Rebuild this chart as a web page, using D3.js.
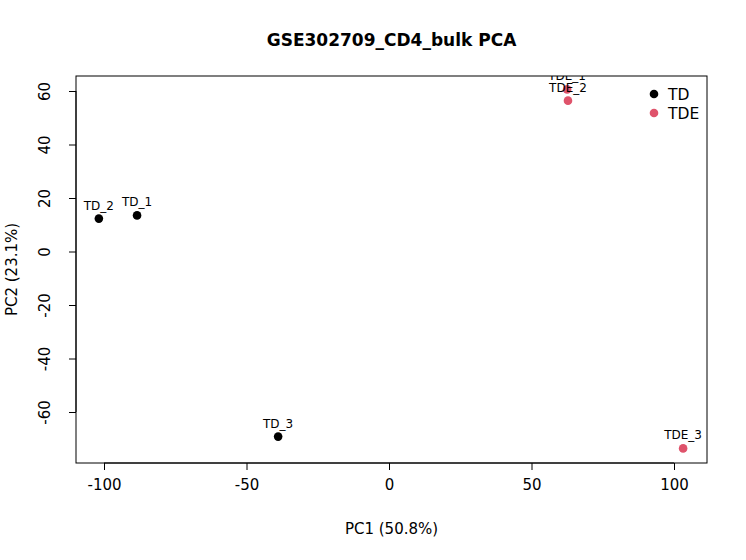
<!DOCTYPE html>
<html>
<head>
<meta charset="utf-8">
<script src="https://cdn.jsdelivr.net/npm/d3@7"></script>
<style>
  body { margin: 0; background: #fff; }
  text { font-family: "DejaVu Sans", sans-serif; }
</style>
</head>
<body>
<div id="chart"></div>
<script>
const samples = ["TD_1", "TD_2", "TD_3", "TDE_1", "TDE_2", "TDE_3"];
const groups = ["TD", "TD", "TD", "TDE", "TDE", "TDE"];
const pc1 = [-88.4, -101.8, -38.9, 62.5, 62.8, 103.2];
const pc2 = [13.5, 12.3, -69.2, 60.6, 56.4, -73.6];
const xTicks = [-100, -50, 0, 50, 100];
const yTicks = [-60, -40, -20, 0, 20, 40, 60];
const legendGroups = ["TD", "TDE"];

const W = 746, H = 560;
const pLeft = 76, pRight = 707, pTop = 76, pBottom = 463;

const svg = d3.select("#chart")
  .append("svg")
  .attr("width", W)
  .attr("height", H);

const x = d3.scaleLinear().domain([-100, 100]).range([104, 674]);
const y = d3.scaleLinear().domain([-60, 60]).range([412, 91]);
const color = d3.scaleOrdinal().domain(legendGroups).range(["#000000", "#DF536B"]);
const fmt = d => String(d); // plain hyphen like base R

// clip to plot region (R clips text with xpd = FALSE)
svg.append("clipPath").attr("id", "plotclip")
  .append("rect")
  .attr("x", pLeft).attr("y", pTop)
  .attr("width", pRight - pLeft).attr("height", pBottom - pTop);

// box
svg.append("rect")
  .attr("x", pLeft).attr("y", pTop)
  .attr("width", pRight - pLeft).attr("height", pBottom - pTop)
  .attr("fill", "none").attr("stroke", "#000").attr("stroke-width", 1);

// x axis
const xAxis = svg.append("g")
  .attr("transform", `translate(0,${pBottom})`)
  .call(d3.axisBottom(x).tickValues(xTicks).tickSize(7).tickPadding(9).tickFormat(fmt));
xAxis.select(".domain").attr("d", `M${x(-100)},0H${x(100)}`);
xAxis.selectAll("text").attr("font-size", 15).attr("font-family", "DejaVu Sans").attr("fill", "#000");

// y axis, labels rotated like base R
const yAxis = svg.append("g")
  .attr("transform", `translate(${pLeft},0)`)
  .call(d3.axisLeft(y).tickValues(yTicks).tickSize(7).tickFormat(fmt));
yAxis.select(".domain").attr("d", `M0,${y(-60)}V${y(60)}`);
yAxis.selectAll("text")
  .attr("font-size", 15).attr("font-family", "DejaVu Sans").attr("fill", "#000")
  .attr("transform", "rotate(-90)")
  .attr("x", 0).attr("y", -31).attr("dy", "0.35em")
  .attr("text-anchor", "middle");

// points
const data = samples.map((s, i) => ({ name: s, group: groups[i], x: pc1[i], y: pc2[i] }));

const plot = svg.append("g").attr("clip-path", "url(#plotclip)");

plot.selectAll(".pt")
  .data(data)
  .enter()
  .append("circle")
  .attr("cx", d => x(d.x))
  .attr("cy", d => y(d.y))
  .attr("r", 4.3)
  .attr("fill", d => color(d.group));

plot.selectAll(".lbl")
  .data(data)
  .enter()
  .append("text")
  .attr("x", d => x(d.x))
  .attr("y", d => y(d.y) - 9)
  .attr("text-anchor", "middle")
  .attr("font-size", 12)
  .text(d => d.name);

// legend
const lg = svg.selectAll(".lg")
  .data(legendGroups)
  .enter()
  .append("g")
  .attr("transform", (d, i) => `translate(654,${94 + i * 19})`);
lg.append("circle").attr("r", 4.3).attr("fill", d => color(d));
lg.append("text").attr("x", 14).attr("dy", "0.36em").attr("font-size", 15.5).text(d => d);

// titles
svg.append("text")
  .attr("x", (pLeft + pRight) / 2).attr("y", 46)
  .attr("text-anchor", "middle")
  .attr("font-size", 17).attr("font-weight", "bold")
  .text("GSE302709_CD4_bulk PCA");

svg.append("text")
  .attr("x", (pLeft + pRight) / 2).attr("y", 534)
  .attr("text-anchor", "middle")
  .attr("font-size", 15)
  .text("PC1 (50.8%)");

svg.append("text")
  .attr("transform", `translate(17,${(pTop + pBottom) / 2}) rotate(-90)`)
  .attr("text-anchor", "middle")
  .attr("font-size", 15)
  .text("PC2 (23.1%)");
</script>
</body>
</html>
